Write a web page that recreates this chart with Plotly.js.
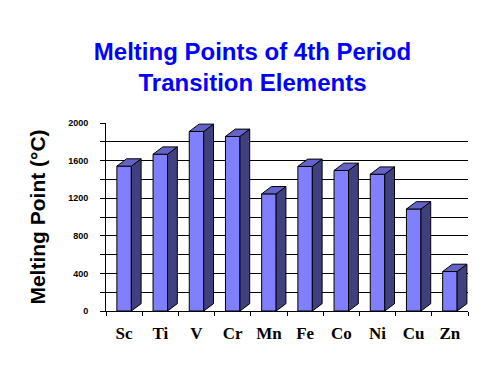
<!DOCTYPE html>
<html>
<head>
<meta charset="utf-8">
<script src="https://cdn.plot.ly/plotly-3.0.1.min.js"></script>
<style>html,body{margin:0;padding:0;background:#fff;}#chart{width:500px;height:375px;}</style>
</head>
<body>
<div id="chart"></div>
<script>
// Data
const elements = ['Sc', 'Ti', 'V', 'Cr', 'Mn', 'Fe', 'Co', 'Ni', 'Cu', 'Zn'];
const meltingPoints = [1541, 1668, 1910, 1857, 1246, 1538, 1495, 1455, 1085, 420];
const yTickValues = [0, 200, 400, 600, 800, 1000, 1200, 1400, 1600, 1800, 2000];
const yTickLabels = ['0', '', '400', '', '800', '', '1200', '', '1600', '', '2000'];

// Style of the pseudo-3D bars
const barWidth = 0.4;
const depthX = 0.27;   // depth offset in category units
const depthY = 78;     // depth offset in value units
const frontColor = '#8080FF';
const sideColor = '#40407F';
const topColor = '#6464C8';

const idx = elements.map((_, i) => i);

const traces = [];
// side and top faces
elements.forEach((el, i) => {
  const v = meltingPoints[i];
  const xr = i + barWidth / 2;
  traces.push({
    type: 'scatter', mode: 'lines', fill: 'toself', fillcolor: sideColor,
    x: [xr, xr + depthX, xr + depthX, xr, xr],
    y: [0, depthY, v + depthY, v, 0],
    line: {color: '#000', width: 1}, hoverinfo: 'skip', showlegend: false
  });
  const xl = i - barWidth / 2;
  traces.push({
    type: 'scatter', mode: 'lines', fill: 'toself', fillcolor: topColor,
    x: [xl, xl + depthX, xr + depthX, xr, xl],
    y: [v, v + depthY, v + depthY, v, v],
    line: {color: '#000', width: 1}, hoverinfo: 'skip', showlegend: false
  });
});
// front faces
traces.push({
  type: 'bar', x: idx, y: meltingPoints, width: barWidth,
  marker: {color: frontColor, line: {color: '#000', width: 1}},
  showlegend: false, name: 'Melting Point'
});
// invisible trace to bind the label axis
traces.push({
  type: 'scatter', x: idx, y: meltingPoints, xaxis: 'x2', mode: 'markers',
  marker: {opacity: 0}, hoverinfo: 'skip', showlegend: false
});

const boundaries = [];
for (let i = 0; i <= elements.length; i++) boundaries.push(i - 0.5);

const layout = {
  width: 500, height: 375,
  paper_bgcolor: '#fff', plot_bgcolor: '#fff',
  margin: {l: 106, r: 32, t: 123, b: 64},
  title: {
    text: 'Melting Points of 4th Period<br>Transition Elements',
    font: {family: 'Liberation Sans, Arial, sans-serif', size: 24, color: '#0000FF', weight: 'bold'},
    xref: 'container', x: 0.505, xanchor: 'center',
    yref: 'container', y: 1 - 60 / 375, yanchor: 'top'
  },
  xaxis: {
    range: [-0.5, elements.length - 0.5],
    tickvals: boundaries, ticktext: boundaries.map(() => ''),
    ticks: 'outside', ticklen: 4, tickcolor: '#000', tickwidth: 1,
    showgrid: false, zeroline: false,
    showline: true, linecolor: '#000', linewidth: 1, fixedrange: true
  },
  xaxis2: {
    overlaying: 'x', side: 'bottom', anchor: 'y',
    range: [-0.5, elements.length - 0.5],
    tickvals: idx, ticktext: elements,
    ticks: '', showgrid: false, zeroline: false, showline: false,
    ticklabelstandoff: 10,
    tickfont: {family: 'Liberation Serif, Times New Roman, serif', size: 17, color: '#000', weight: 'bold'}
  },
  yaxis: {
    range: [0, 2000],
    tickvals: yTickValues, ticktext: yTickLabels,
    ticks: 'outside', ticklen: 5, tickcolor: '#000',
    ticklabelstandoff: 10,
    tickfont: {family: 'Liberation Sans, Arial, sans-serif', size: 9, color: '#000', weight: 'bold'},
    showgrid: true, gridcolor: '#000', gridwidth: 1,
    zeroline: false, showline: true, linecolor: '#000', linewidth: 1,
    title: {
      text: 'Melting Point (°C)',
      font: {family: 'Liberation Sans, Arial, sans-serif', size: 21, color: '#000', weight: 'bold'},
      standoff: 16
    },
    automargin: false
  },
  showlegend: false,
  bargap: 0
};

Plotly.newPlot('chart', traces, layout, {staticPlot: true, displayModeBar: false});
</script>
</body>
</html>
